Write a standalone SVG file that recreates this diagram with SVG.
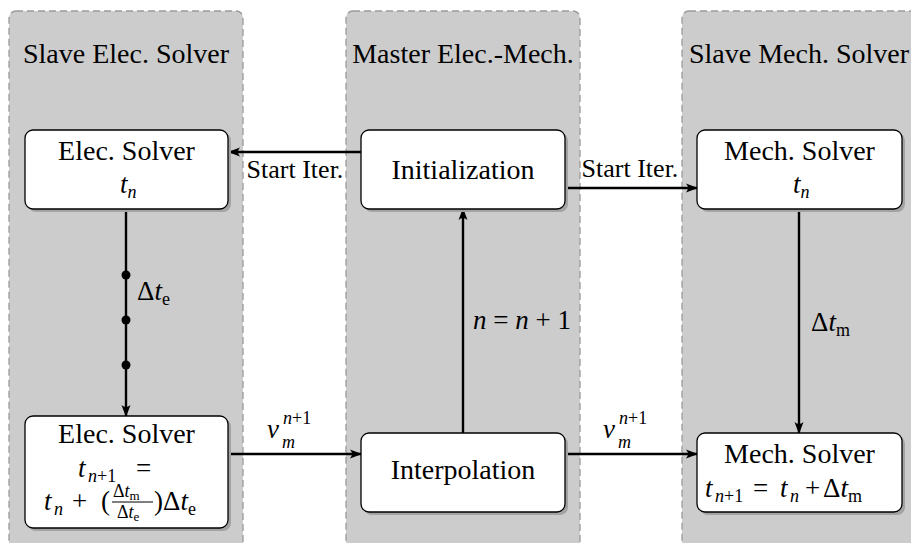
<svg xmlns="http://www.w3.org/2000/svg" width="911" height="543" viewBox="0 0 911 543">
<defs>
<marker id="arr" viewBox="0 0 12 10" refX="11" refY="5" markerWidth="12" markerHeight="10" markerUnits="userSpaceOnUse" orient="auto">
<path d="M0,0.5 Q4,5 0,9.5 L12,5 Z" fill="#000"/>
</marker>
</defs>
<style>
text{font-family:"Liberation Serif",Tinos,"Times New Roman","DejaVu Serif","Noto Serif",FreeSerif,serif;fill:#000}
.t{font-size:28px;text-anchor:middle}
.lb{font-size:26px;text-anchor:middle}
.m{font-size:27px;font-style:italic}
.r{font-size:27px}
.s{font-size:18px}
.si{font-size:18px;font-style:italic}
.panel{fill:#cccccc;stroke:#9a9a9a;stroke-width:1.3;stroke-dasharray:7,4}
.box{fill:#fff;stroke:#000;stroke-width:1.3}
.sh{fill:#a3a3a3}
.c{stroke:#000;stroke-width:2.4;fill:none}
</style>
<rect width="911" height="543" fill="#fff"/>
<g id="panel-elec">
<rect class="panel" x="9" y="11" width="234" height="545" rx="7"/>
<text class="t" x="126" y="63">Slave Elec. Solver</text>
</g>
<g id="panel-master">
<rect class="panel" x="346" y="11" width="234" height="545" rx="7"/>
<text class="t" x="463" y="63">Master Elec.-Mech.</text>
</g>
<g id="panel-mech">
<rect class="panel" x="682" y="11" width="234" height="545" rx="7"/>
<text class="t" x="799" y="63">Slave Mech. Solver</text>
</g>
<g id="connectors">
<line class="c" x1="361" y1="152" x2="229" y2="152" marker-end="url(#arr)"/>
<line class="c" x1="565" y1="188" x2="697" y2="188" marker-end="url(#arr)"/>
<line class="c" x1="126" y1="209" x2="126" y2="416" marker-end="url(#arr)"/>
<circle cx="126" cy="275" r="4.5"/>
<circle cx="126" cy="320" r="4.5"/>
<circle cx="126" cy="365" r="4.5"/>
<line class="c" x1="799" y1="209" x2="799" y2="433" marker-end="url(#arr)"/>
<line class="c" x1="463" y1="433" x2="463" y2="209" marker-end="url(#arr)"/>
<line class="c" x1="228" y1="454" x2="361" y2="454" marker-end="url(#arr)"/>
<line class="c" x1="565" y1="454" x2="697" y2="454" marker-end="url(#arr)"/>
<text class="lb" x="295" y="178">Start Iter.</text>
<text class="lb" x="630" y="177">Start Iter.</text>
<text class="r" x="137" y="300">Δ<tspan class="m">t</tspan><tspan class="s" dy="5">e</tspan></text>
<text class="r" x="811" y="331">Δ<tspan class="m">t</tspan><tspan class="s" dy="5">m</tspan></text>
<text class="r" x="473" y="329"><tspan class="m">n</tspan> = <tspan class="m">n</tspan> + 1</text>
<text class="m" x="267" y="438">v</text>
<text class="s" x="283" y="424" font-size="17"><tspan font-style="italic">n</tspan>+1</text>
<text class="si" x="282" y="448" font-size="17">m</text>
<text class="m" x="603" y="438">v</text>
<text class="s" x="619" y="424" font-size="17"><tspan font-style="italic">n</tspan>+1</text>
<text class="si" x="618" y="448" font-size="17">m</text>
</g>
<g id="node-elec-top">
<rect class="sh" x="28" y="133" width="203" height="79" rx="8"/>
<rect class="box" x="25" y="130" width="203" height="79" rx="8"/>
<text class="t" x="126.5" y="160">Elec. Solver</text>
<text class="m" x="120" y="193">t<tspan class="s" dy="5">n</tspan></text>
</g>
<g id="node-init">
<rect class="sh" x="364" y="133" width="204" height="79" rx="8"/>
<rect class="box" x="361" y="130" width="204" height="79" rx="8"/>
<text class="t" x="463" y="179">Initialization</text>
</g>
<g id="node-mech-top">
<rect class="sh" x="700" y="133" width="205" height="79" rx="8"/>
<rect class="box" x="697" y="130" width="205" height="79" rx="8"/>
<text class="t" x="799.5" y="160">Mech. Solver</text>
<text class="m" x="793" y="193">t<tspan class="s" dy="5">n</tspan></text>
</g>
<g id="node-elec-bottom">
<rect class="sh" x="28" y="419" width="203" height="112" rx="8"/>
<rect class="box" x="25" y="416" width="203" height="112" rx="8"/>
<text class="t" x="126.5" y="443">Elec. Solver</text>
<text class="m" x="78" y="477">t</text>
<text class="s" x="88" y="482"><tspan font-style="italic">n</tspan>+1</text>
<text class="r" x="136" y="477">=</text>
<text class="m" x="44" y="510">t</text>
<text class="si" x="54" y="515">n</text>
<text class="r" x="72" y="510">+</text>
<text class="r" x="101" y="510">(</text>
<text class="s" x="113" y="497">Δ<tspan font-style="italic">t</tspan><tspan font-size="13" dy="3">m</tspan></text>
<line x1="112" y1="502" x2="153" y2="502" stroke="#000" stroke-width="1.2"/>
<text class="s" x="117" y="518">Δ<tspan font-style="italic">t</tspan><tspan font-size="13" dy="3">e</tspan></text>
<text class="r" x="154" y="510">)</text>
<text class="r" x="163" y="510">Δ<tspan class="m">t</tspan><tspan class="s" dy="5">e</tspan></text>
</g>
<g id="node-interp">
<rect class="sh" x="364" y="436" width="204" height="79" rx="8"/>
<rect class="box" x="361" y="433" width="204" height="79" rx="8"/>
<text class="t" x="463" y="479">Interpolation</text>
</g>
<g id="node-mech-bottom">
<rect class="sh" x="700" y="436" width="205" height="79" rx="8"/>
<rect class="box" x="697" y="433" width="205" height="79" rx="8"/>
<text class="t" x="799.5" y="463">Mech. Solver</text>
<text class="m" x="705" y="497">t</text>
<text class="s" x="715" y="502"><tspan font-style="italic">n</tspan>+1</text>
<text class="r" x="753" y="497">=</text>
<text class="m" x="780" y="497">t</text>
<text class="si" x="790" y="502">n</text>
<text class="r" x="805" y="497">+</text>
<text class="r" x="823" y="497">Δ<tspan class="m">t</tspan><tspan class="s" dy="5">m</tspan></text>
</g>
</svg>
